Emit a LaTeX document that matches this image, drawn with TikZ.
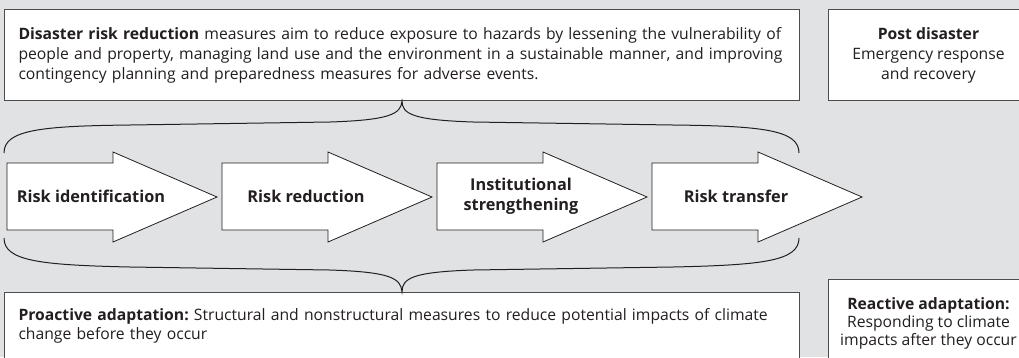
\documentclass[tikz,border=0pt]{standalone}
\usepackage{fontspec}
\setmainfont{Open Sans}
\usetikzlibrary{positioning}
\frenchspacing

\definecolor{panelgray}{RGB}{225,226,228}
\definecolor{framegray}{RGB}{77,77,77}
\definecolor{inkgray}{RGB}{35,31,32}

\tikzset{
  infobox/.style={draw=framegray, fill=white, line width=1pt, inner xsep=14pt, text=inkgray},
  stepshape/.style={draw=inkgray, fill=white, line width=0.8pt, line join=miter},
  steplabel/.style={font=\fontsize{16.3}{20}\selectfont\bfseries, align=center, text=inkgray},
  bracket/.style={draw=inkgray, line width=1pt},
}

\begin{document}
\begin{tikzpicture}[x=1pt, y=-1pt, font=\fontsize{15.7}{20}\selectfont]
\useasboundingbox (0,0) rectangle (1019,357);
\fill[panelgray] (0,0) rectangle (1019,357);
\clip (0,0) rectangle (1019,357);

% top row: disaster risk reduction and post disaster
\node[infobox, anchor=north west, text width=767pt, minimum height=91pt, align=left] (drr) at (4,9) {\textbf{Disaster risk reduction} measures aim to reduce exposure to hazards by lessening the vulnerability of\\people and property, managing land use and the environment in a sustainable manner, and improving\\contingency planning and preparedness measures for adverse events.};
\node[infobox, anchor=north west, minimum width=200pt, minimum height=91pt, align=center, inner xsep=0pt] (post) at (828,9) {\textbf{Post disaster}\\Emergency response\\and recovery};

% the four steps
\foreach \xa/\nm/\lab in {7/ident/Risk identification, 222/reduce/Risk reduction, 437/inst/{Institutional\\strengthening}, 652/transfer/Risk transfer}{
  \draw[stepshape] (\xa,163) -- ++(106,0) -- ++(0,-11) -- ++(104,45) -- ++(-104,45) -- ++(0,-12) -- ++(-106,0) -- cycle;
  \node[steplabel] (\nm) at (\xa+84,196) {\lab};
}

% bottom row: proactive and reactive adaptation
\node[infobox, anchor=north west, text width=767pt, align=left, inner ysep=16pt, font=\fontsize{15.7}{19}\selectfont] (pro) at (4,292) {\textbf{Proactive adaptation:} Structural and nonstructural measures to reduce potential impacts of climate\\change before they occur};
\node[infobox, anchor=north west, minimum width=200pt, align=center, inner xsep=0pt, inner ysep=18pt, font=\fontsize{15.7}{18}\selectfont] (react) at (828,279) {\textbf{Reactive adaptation:}\\Responding to climate\\impacts after they occur};

% braces
\draw[bracket] (4,153) .. controls (4,130) and (40,126) .. (130,125) -- (330,122) .. controls (390,120) and (401,114) .. (drr.south) .. controls (402,114) and (413,120) .. (473,122) -- (673,125) .. controls (763,126) and (799,130) .. (799,153);
\draw[bracket] (4,238) .. controls (4,261) and (40,265) .. (130,267) -- (330,270) .. controls (390,272) and (401,278) .. (pro.north) .. controls (402,278) and (413,272) .. (473,270) -- (673,267) .. controls (763,265) and (799,261) .. (799,238);

\end{tikzpicture}
\end{document}
